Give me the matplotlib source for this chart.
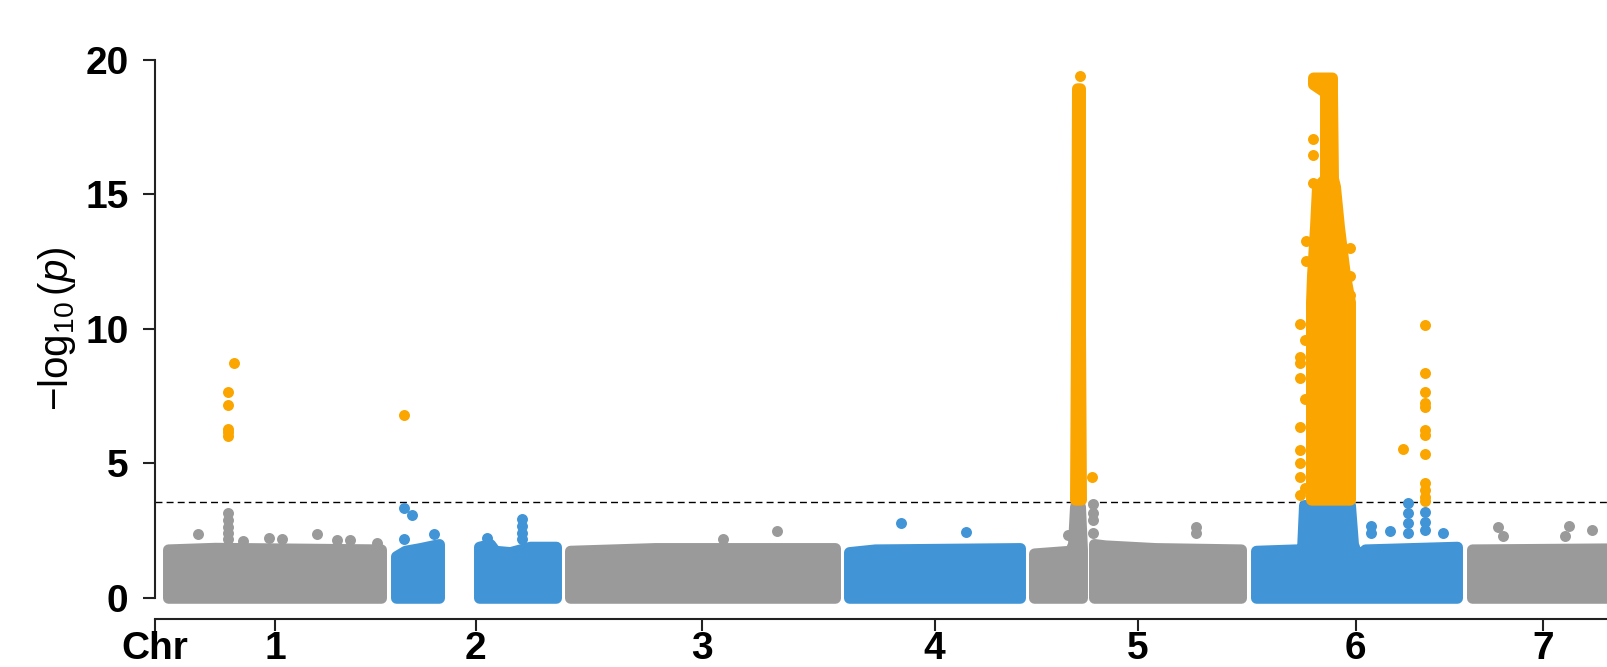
import matplotlib
matplotlib.use('Agg')
import matplotlib.pyplot as plt

plt.rcParams['font.family'] = ['Liberation Sans', 'DejaVu Sans']
plt.rcParams['mathtext.fontset'] = 'custom'
plt.rcParams['mathtext.rm'] = 'Liberation Sans'
plt.rcParams['mathtext.it'] = 'Liberation Sans:italic'

GREY = '#9a9a9a'
BLUE = '#4195d7'
ORANGE = '#fba500'

# bulk of non-significant SNPs, one cluster per entry (cumulative position, upper -log10 p)
bulk_x = [
    [13, 60, 226],
    [241, 250, 265, 284],
    [324, 335, 340, 355, 365, 375, 401],
    [415, 500, 680],
    [694, 720, 865],
    [879, 915, 918, 920, 925, 927],
    [939, 950, 1000, 1086],
    [1101, 1140, 1147, 1149, 1195, 1198, 1203, 1210, 1302],
    [1317, 1500],
]
bulk_top = [
    [1.80, 1.86, 1.80],
    [1.55, 1.75, 1.85, 2.00],
    [1.90, 2.00, 1.75, 1.70, 1.80, 1.90, 1.90],
    [1.75, 1.85, 1.85],
    [1.70, 1.80, 1.85],
    [1.65, 1.75, 2.00, 3.40, 3.40, 1.80],
    [2.00, 1.95, 1.85, 1.80],
    [1.75, 1.80, 1.80, 3.45, 3.45, 2.00, 1.50, 1.80, 1.90],
    [1.80, 1.85],
]
bulk_col = [GREY, BLUE, BLUE, GREY, BLUE, GREY, GREY, BLUE, GREY]

# single SNPs sticking out above the bulk
grey_x = [73, 73, 73, 73, 73, 43, 88, 114, 127, 162, 182, 195, 222, 568, 622,
          913, 938, 938, 938, 938, 1041, 1041, 1343, 1348, 1410, 1414, 1437]
grey_y = [3.16, 2.89, 2.62, 2.40, 2.20, 2.37, 2.12, 2.23, 2.18, 2.37, 2.15, 2.15, 2.03, 2.18, 2.49,
          2.33, 3.47, 3.14, 2.89, 2.40, 2.62, 2.40, 2.64, 2.30, 2.30, 2.67, 2.52]
blue_x = [249, 257, 249, 279, 332, 367, 367, 367, 367, 746, 811,
          1216, 1216, 1235, 1253, 1253, 1253, 1253, 1270, 1270, 1270, 1288]
blue_y = [3.33, 3.08, 2.18, 2.37, 2.21, 2.93, 2.67, 2.40, 2.19, 2.77, 2.43,
          2.67, 2.40, 2.49, 3.51, 3.14, 2.77, 2.40, 3.20, 2.83, 2.52, 2.40]

# significant SNPs
sig_x = [73, 73, 73, 73, 73, 79, 249, 925, 937,
         1270, 1270, 1270, 1270, 1270, 1270, 1270, 1270, 1270, 1270, 1270, 1270, 1248,
         1151, 1151, 1158, 1158, 1158, 1195, 1195, 1195,
         1145, 1145, 1145, 1145, 1145, 1145, 1145, 1145, 1145, 1150, 1150, 1150]
sig_y = [7.66, 7.17, 6.26, 6.01, 6.17, 8.74, 6.80, 19.40, 4.48,
         10.14, 8.37, 7.66, 7.23, 7.08, 6.24, 6.05, 5.34, 4.28, 4.01, 3.76, 3.60, 5.52,
         13.27, 12.54, 17.05, 16.47, 15.41, 13.02, 11.98, 11.26,
         10.20, 8.96, 8.72, 8.16, 6.36, 5.49, 5.00, 4.50, 3.82, 9.60, 7.40, 4.10]

# dense significant peaks (chr5 and chr6): -log10 p, left and right position
peak5_y = [3.65, 10.0, 18.95]
peak5_left = [920, 921, 922]
peak5_right = [926, 925, 925]
peak6_y = [3.65, 11.0, 12.0, 13.8, 15.3, 15.6, 18.8, 19.1, 19.35]
peak6_left = [1156, 1156, 1157, 1160, 1162, 1170, 1170, 1158, 1158]
peak6_right = [1195, 1195, 1190, 1184, 1180, 1178, 1177, 1177, 1177]

threshold = 3.56
chr_ticks = [0, 120, 320.7, 546.7, 779.7, 982.7, 1200.7, 1388.3]
chr_labels = ['Chr', '1', '2', '3', '4', '5', '6', '7']

fig = plt.figure(figsize=(16.08, 6.67), dpi=100)
ax = fig.add_axes([155 / 1608, 47.7 / 667, 1500 / 1608, 570.3 / 667])

DOT = 7.9  # marker diameter in points

ax.axhline(threshold, color='black', lw=1, ls=(0, (5, 3)), zorder=1)

for xs, tops, c in zip(bulk_x, bulk_top, bulk_col):
    ax.fill_between(xs, 0, tops, color=c, lw=DOT, joinstyle='round', zorder=2)

ax.scatter(grey_x, grey_y, s=DOT ** 2, color=GREY, linewidths=0, zorder=2)
ax.scatter(blue_x, blue_y, s=DOT ** 2, color=BLUE, linewidths=0, zorder=2)

for py, pl, pr in [(peak5_y, peak5_left, peak5_right), (peak6_y, peak6_left, peak6_right)]:
    ax.fill_betweenx(py, pl, pr, color=ORANGE, lw=DOT, joinstyle='round', zorder=3)
ax.scatter(sig_x, sig_y, s=DOT ** 2, color=ORANGE, linewidths=0, zorder=3)

ax.set_xlim(0, 1500)
ax.set_ylim(-0.80, 20.41)

for side in ['top', 'right']:
    ax.spines[side].set_visible(False)
ax.spines['left'].set_bounds(0, 20)
for side in ['left', 'bottom']:
    ax.spines[side].set_linewidth(1.5)
    ax.spines[side].set_color('#222222')

ax.set_yticks([0, 5, 10, 15, 20])
ax.set_xticks(chr_ticks)
ax.set_xticklabels(chr_labels)
ax.tick_params(axis='both', length=8.6, width=1.5, color='#222222',
               labelsize=28)
ax.tick_params(axis='y', pad=10.5)
ax.tick_params(axis='x', pad=0)
for lab in ax.get_xticklabels() + ax.get_yticklabels():
    lab.set_fontweight('bold')

ax.set_ylabel(r'$-\log_{10}(p)$', fontsize=29, va='center')
ax.yaxis.set_label_coords(-0.0653, 0.509)

fig.savefig('out.png', dpi=100)
